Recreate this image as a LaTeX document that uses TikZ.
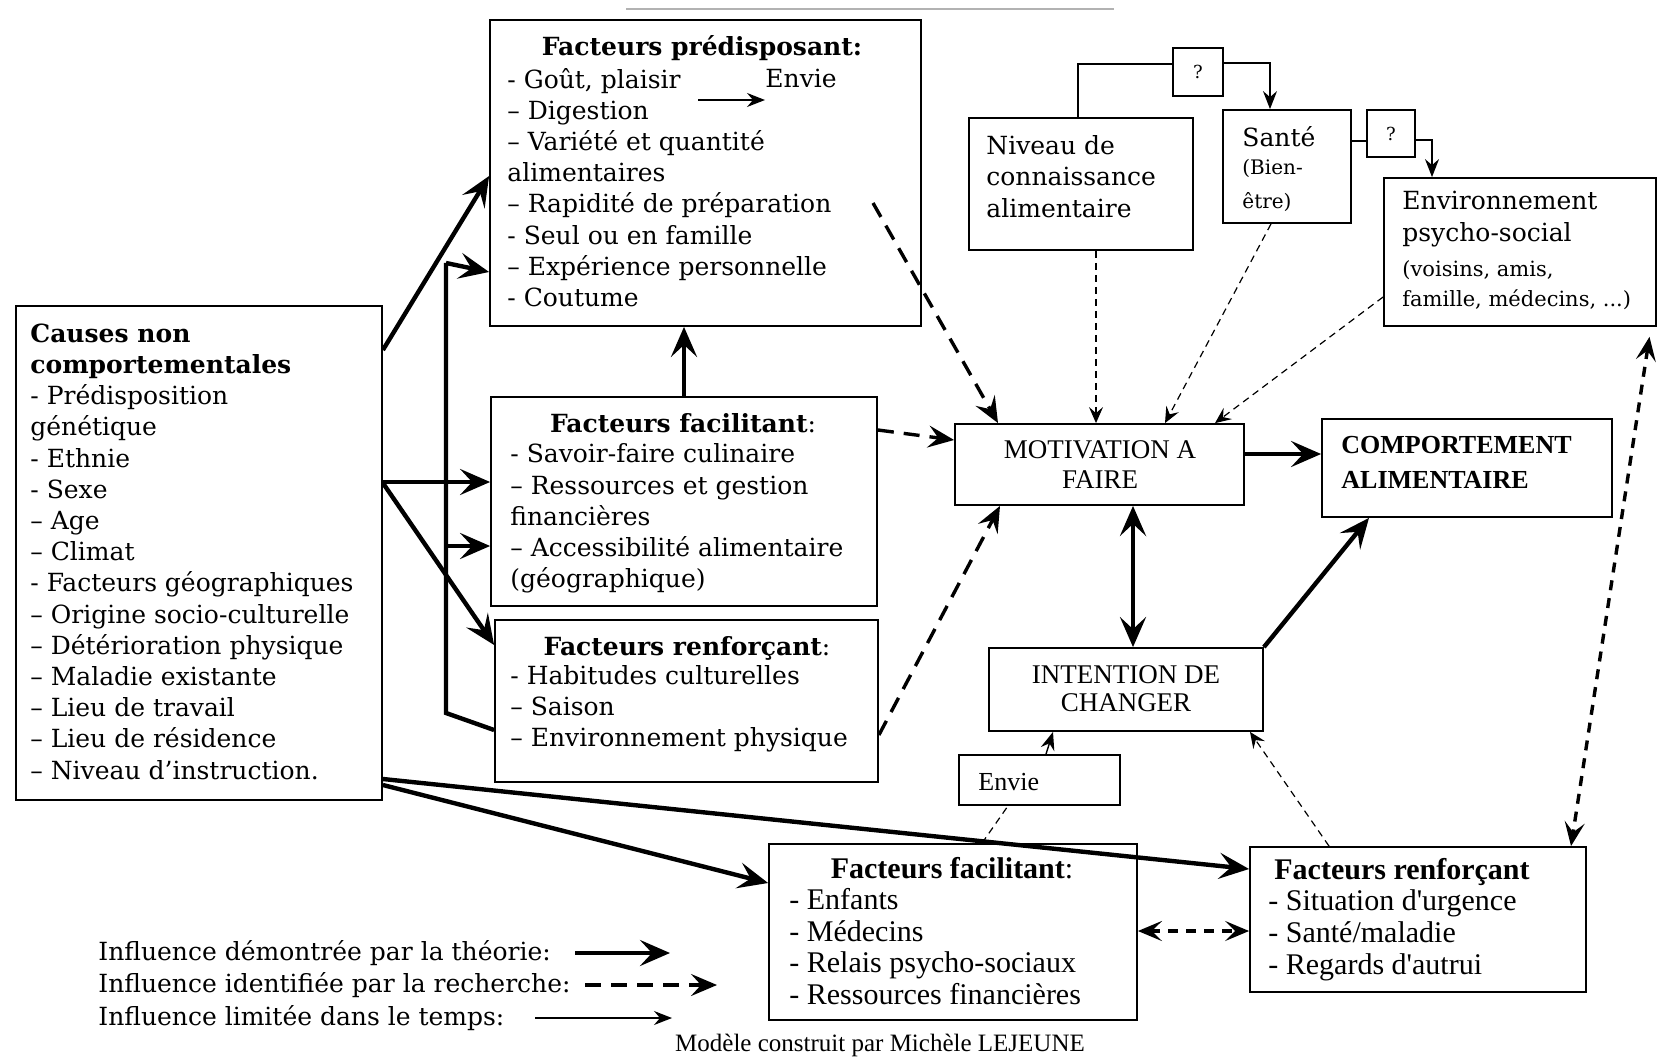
\documentclass[tikz,border=0pt]{standalone}
\usepackage{fontspec}
\setmainfont{DejaVu Serif}
\newfontfamily\tms{Liberation Serif}
\usetikzlibrary{arrows.meta,fit,calc}
\begin{document}
\begin{tikzpicture}[x=0.5pt,y=-0.5pt,
  box/.style={draw, line width=0.9pt, inner sep=0pt},
  txt/.style={inner sep=0pt, align=left, font=\fontsize{12.5}{15.6}\selectfont},
  ttxt/.style={inner sep=0pt, align=left, font=\tms\fontsize{15}{15.8}\selectfont},
  thk/.style={line width=2.2pt, -{Stealth[length=15pt,width=13pt,inset=6pt]}},
  dbl/.style={line width=2.2pt, {Stealth[length=15pt,width=13pt,inset=6pt]}-{Stealth[length=15pt,width=13pt,inset=6pt]}},
  dsh/.style={line width=1.7pt, dash pattern=on 8pt off 5pt, -{Stealth[length=13pt,width=11pt,inset=5pt]}},
  dshd/.style={line width=1.7pt, dash pattern=on 5pt off 4pt, {Stealth[length=12pt,width=10pt,inset=5pt]}-{Stealth[length=12pt,width=10pt,inset=5pt]}},
  tdsh/.style={line width=0.6pt, dash pattern=on 3.5pt off 2.5pt, -{Stealth[length=8pt,width=7pt,inset=3pt]}},
  thn/.style={line width=0.7pt, -{Stealth[length=9pt,width=7pt,inset=3pt]}},
]
\path[use as bounding box] (0,0) rectangle (1664,1059);

% faint cut line at top
\coordinate (cutA) at (626,9); \coordinate (cutB) at (1114,9);
\draw[gray!60, line width=1pt] (cutA) -- (cutB);

% ---------- boxes ----------
\node[box, fit={(490,20) (921,326)}] (pred) {};
\node[box, fit={(16,306) (382,800)}] (causes) {};
\node[box, fit={(491,397) (877,606)}] (facil) {};
\node[box, fit={(495,620) (878,782)}] (renf) {};
\node[box, fit={(969,118) (1193,250)}] (niv) {};
\node[box, fit={(1223,110) (1351,223)}] (sante) {};
\node[box, fit={(1173,48) (1223,96)}] (q1) {};
\node[box, fit={(1367,110) (1415,157)}] (q2) {};
\node[box, fit={(1384,178) (1656,326)}] (env) {};
\node[box, fit={(955,424) (1244,505)}] (motiv) {};
\node[box, fit={(1322,419) (1612,517)}] (comp) {};
\node[box, fit={(989,648) (1263,731)}] (inten) {};
\node[box, fit={(959,755) (1120,805)}] (envie) {};
\node[box, fit={(769,844) (1137,1020)}] (bfacil) {};
\node[box, fit={(1250,847) (1586,992)}] (brenf) {};

% ---------- texts ----------
\node[txt, font=\bfseries\fontsize{12.5}{15.6}\selectfont] (predT) at (702,48) {Facteurs prédisposant:};
\node[txt, anchor=west] (predL) at (507,187.5) {- Goût, plaisir\\– Digestion\\– Variété et quantité\\alimentaires\\– Rapidité de préparation\\- Seul ou en famille\\– Expérience personnelle\\- Coutume};
\node[txt, anchor=west] (envieA) at (765,78) {Envie};
\coordinate (gout) at (698,100);
\draw[thn] (gout) -- (gout -| envieA.west);

\node[txt, anchor=west] (causesT) at (30,551.5) {\textbf{Causes non}\\\textbf{comportementales}\\- Prédisposition\\génétique\\- Ethnie\\- Sexe\\– Age\\– Climat\\- Facteurs géographiques\\– Origine socio-culturelle\\– Détérioration physique\\– Maladie existante\\– Lieu de travail\\– Lieu de résidence\\– Niveau d'instruction.};

\node[txt] (facilT) at (683,423) {\textbf{Facteurs facilitant}:};
\node[txt, anchor=west] (facilL) at (510,518.5) {- Savoir-faire culinaire\\– Ressources et gestion\\financières\\– Accessibilité alimentaire\\(géographique)};

\node[txt] (renfT) at (687,648) {\textbf{Facteurs renforçant}:};
\node[txt, anchor=west] (renfL) at (510,708.5) {- Habitudes culturelles\\– Saison\\– Environnement physique};

\node[txt, anchor=west] (nivT) at (986,176.5) {Niveau de\\connaissance\\alimentaire};
\node[txt, anchor=west] (santeT) at (1242,137) {Santé};
\node[txt, anchor=west, font=\fontsize{10}{17}\selectfont] (santeB) at (1242,185) {(Bien-\\être)};
\node[inner sep=0pt, font=\fontsize{9}{10}\selectfont] (q1T) at (q1) {?};
\node[inner sep=0pt, font=\fontsize{9}{10}\selectfont] (q2T) at (q2) {?};
\node[txt, anchor=west] (envT) at (1402,219) {Environnement\\psycho-social};
\node[txt, anchor=west, font=\fontsize{10.5}{15}\selectfont] (envB) at (1402,285) {(voisins, amis,\\famille, médecins, ...)};

\node[txt, align=center, font=\tms\fontsize{13.5}{15}\selectfont] (motivT) at (1100,465) {MOTIVATION A\\FAIRE};
\node[txt, anchor=west, font=\tms\bfseries\fontsize{13}{17.5}\selectfont] (compT) at (1341,462.5) {COMPORTEMENT\\ALIMENTAIRE};
\node[txt, align=center, font=\tms\fontsize{13.5}{14}\selectfont] (intenT) at (1126,689) {INTENTION DE\\CHANGER};
\node[txt, anchor=west, font=\tms\fontsize{13}{14}\selectfont] (envieT) at (978,782) {Envie};

\node[ttxt] (bfacilT) at (952,868) {\textbf{Facteurs facilitant}:};
\node[ttxt, anchor=west] (bfacilL) at (789,946.5) {- Enfants\\- Médecins\\- Relais psycho-sociaux\\- Ressources financières};
\node[ttxt, anchor=west] (brenfT) at (1274,872) {\textbf{Facteurs renforçant}};
\node[ttxt, anchor=west, font=\tms\fontsize{15}{16}\selectfont] (brenfL) at (1268,935) {- Situation d'urgence\\- Santé/maladie\\- Regards d'autrui};

\node[txt, anchor=west, font=\fontsize{12.5}{16.2}\selectfont] (legend) at (98,985.5) {Influence démontrée par la théorie:\\Influence identifiée par la recherche:\\Influence limitée dans le temps:};
\node[inner sep=0pt, font=\tms\fontsize{12.5}{14}\selectfont] (author) at (880,1045) {Modèle construit par Michèle LEJEUNE};

% ---------- legend arrows ----------
\coordinate (la1) at (575,953); \coordinate (lb1) at (670,953);
\coordinate (la2) at (585,985); \coordinate (lb2) at (717,985);
\coordinate (la3) at (535,1018); \coordinate (lb3) at (672,1018);
\draw[thk] (la1) -- (lb1);
\draw[dsh] (la2) -- (lb2);
\draw[thn] (la3) -- (lb3);

% ---------- thick connectors ----------
\draw[thk] (causes.east |- 0,350) -- (pred.west |- 0,176);
\draw[thk] (causes.east |- 0,482) -- (facil.west |- 0,482);
\draw[thk] (causes.east |- 0,483) -- (renf.west |- 0,645);
\coordinate (brk) at (446,713);
\coordinate (brtop) at (446,263);
\draw[line width=2.2pt] (renf.west |- 0,730) -- (brk) -- (brtop);
\draw[thk] (brtop) -- (pred.west |- 0,272);
\draw[thk] (brtop |- 0,546) -- (facil.west |- 0,546);
\draw[thk] (facil.north -| 684,0) -- (pred.south -| 684,0);
\draw[thk] (motiv.east |- 0,454) -- (comp.west |- 0,454);
\draw[dbl] (motiv.south -| 1133,0) -- (inten.north -| 1133,0);
\draw[thk] (inten.north east) -- (comp.south -| 1369,0);
\draw[thk] (causes.east |- 0,785) -- (bfacil.west |- 0,883);
\draw[thk] (causes.east |- 0,779) -- (brenf.west |- 0,869);

% ---------- dashed connectors ----------
\coordinate (pd) at (873,203);
\draw[dsh] (pd) -- (motiv.north -| 998,0);
\draw[dsh] (facil.east |- 0,430) -- (motiv.west |- 0,440);
\draw[dsh] (renf.east |- 0,735) -- (motiv.south -| 1000,0);
\draw[dshd, shorten <=5pt] (env.south -| 1651,0) -- (brenf.north -| 1571,0);
\draw[dshd] (bfacil.east |- 0,931) -- (brenf.west |- 0,931);

\draw[tdsh] (niv.south -| 1096,0) -- (motiv.north -| 1096,0);
\draw[tdsh] (sante.south -| 1271,0) -- (motiv.north -| 1165,0);
\draw[tdsh] (env.west |- 0,297) -- (motiv.north -| 1215,0);
\draw[tdsh] (brenf.north -| 1329,0) -- (inten.south -| 1250,0);
\draw[line width=0.6pt, dash pattern=on 3.5pt off 2.5pt] (bfacil.north -| 982,0) -- (envie.south -| 1008,0);

% ---------- thin connectors ----------
\draw[thn] (envie.north -| 1046,0) -- (inten.south -| 1053,0);
\draw[line width=0.7pt] (niv.north -| 1078,0) |- (q1.west |- 0,64);
\draw[thn] (q1.east |- 0,63) -| (sante.north -| 1270,0);
\draw[line width=0.7pt] (sante.east |- 0,141) -- (q2.west |- 0,141);
\draw[thn] (q2.east |- 0,140) -| (env.north -| 1432,0);
\end{tikzpicture}
\end{document}
